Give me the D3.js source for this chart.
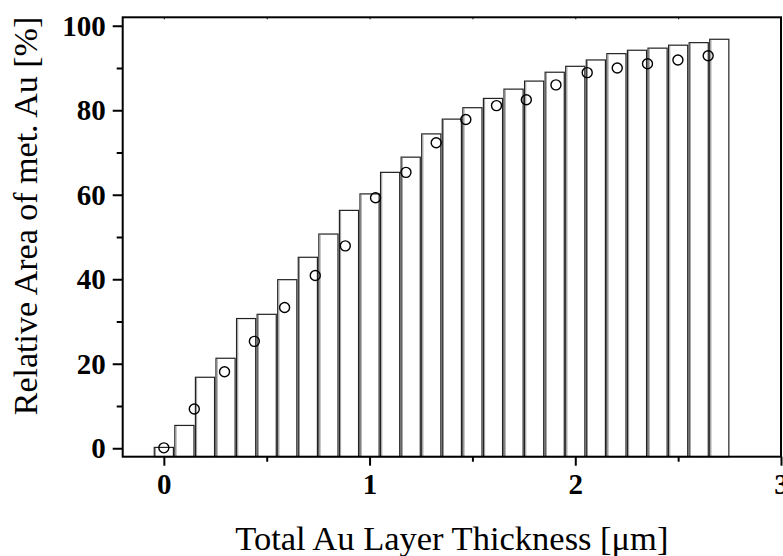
<!DOCTYPE html>
<html>
<head>
<meta charset="utf-8">
<script src="https://cdn.jsdelivr.net/npm/d3@7"></script>
<style>
  html, body { margin: 0; padding: 0; background: #fff; }
  svg { display: block; }
</style>
</head>
<body>
<svg id="chart" width="783" height="556"></svg>
<script>
// Bar series (histogram-like bars at 0.1 µm steps)
const barX = [0, 0.1, 0.2, 0.3, 0.4, 0.5, 0.6, 0.7, 0.8, 0.9, 1.0, 1.1, 1.2, 1.3,
              1.4, 1.5, 1.6, 1.7, 1.8, 1.9, 2.0, 2.1, 2.2, 2.3, 2.4, 2.5, 2.6, 2.7];
const barY = [0.2, 5.4, 16.8, 21.3, 30.7, 31.7, 39.9, 45.2, 50.7, 56.3, 60.2, 65.3, 68.9, 74.4,
              77.9, 80.6, 82.8, 85.0, 86.9, 89.0, 90.4, 91.9, 93.4, 94.2, 94.7, 95.4, 96.0, 96.8];
// Measured points (open circles)
const ptX = [0, 0.148, 0.295, 0.44, 0.587, 0.736, 0.882, 1.029, 1.177, 1.324,
             1.468, 1.617, 1.762, 1.906, 2.058, 2.204, 2.351, 2.499, 2.646];
const ptY = [0.1, 9.3, 18.1, 25.3, 33.3, 40.9, 47.9, 59.3, 65.3, 72.3,
             77.8, 81.1, 82.5, 86.0, 88.9, 90.0, 91.0, 91.9, 92.9];
// Axis ticks
const xMajor = [0, 1, 2, 3];
const xMinor = [0.5, 1.5, 2.5];
const yMajor = [0, 20, 40, 60, 80, 100];
const yMinor = [10, 30, 50, 70, 90];
const xTitle = "Total Au Layer Thickness [\u03BCm]";
const yTitle = "Relative Area of met. Au [%]";
const barWidth = 0.093;

const svg = d3.select("#chart");
const L = 122.7, R = 781, T = 17.3, B = 456.7;
const x = d3.scaleLinear().domain([-0.2, 3]).range([L, R]);
const y = d3.scaleLinear().domain([-2, 102]).range([B, T]);
const fontFam = "'Liberation Serif', 'Times New Roman', serif";

// Bars
const bars = barX.map((v, i) => ({x: v, y: barY[i]}));
svg.append("g").selectAll("rect").data(bars).join("rect")
  .attr("x", d => x(d.x - barWidth / 2))
  .attr("y", d => y(d.y))
  .attr("width", d => x(d.x + barWidth / 2) - x(d.x - barWidth / 2))
  .attr("height", d => y(-2) - y(d.y))
  .attr("fill", "#fff")
  .attr("stroke", "#222")
  .attr("stroke-width", 1.2);
// gray shading line on left edges
svg.append("g").selectAll("line").data(bars).join("line")
  .attr("x1", d => x(d.x - barWidth / 2) + 1.2)
  .attr("x2", d => x(d.x - barWidth / 2) + 1.2)
  .attr("y1", d => y(d.y) + 0.6)
  .attr("y2", y(-2))
  .attr("stroke", "#999")
  .attr("stroke-width", 1);

// Points
const pts = ptX.map((v, i) => ({x: v, y: ptY[i]}));
svg.append("g").selectAll("circle").data(pts).join("circle")
  .attr("cx", d => x(d.x))
  .attr("cy", d => y(d.y))
  .attr("r", 5)
  .attr("fill", "none")
  .attr("stroke", "#000")
  .attr("stroke-width", 1.4);

// Frame
svg.append("rect").attr("x", L).attr("y", T).attr("width", R - L).attr("height", B - T)
  .attr("fill", "none").attr("stroke", "#000").attr("stroke-width", 2);

// Axes
const axB = d3.axisBottom(x).tickValues(xMajor).tickSize(9).tickPadding(8).tickFormat(d3.format("d"));
const gB = svg.append("g").attr("transform", `translate(0,${B})`).call(axB);
gB.select(".domain").remove();
gB.selectAll(".tick line").attr("stroke", "#000").attr("stroke-width", 2);
gB.selectAll(".tick text").attr("font-family", fontFam).attr("font-size", 29).attr("font-weight", "bold").attr("fill", "#000");
const gBm = svg.append("g").attr("transform", `translate(0,${B})`)
  .call(d3.axisBottom(x).tickValues(xMinor).tickSize(5).tickFormat(""));
gBm.select(".domain").remove();
gBm.selectAll(".tick line").attr("stroke", "#000").attr("stroke-width", 2);

const axL = d3.axisLeft(y).tickValues(yMajor).tickSize(10).tickPadding(7).tickFormat(d3.format("d"));
const gL = svg.append("g").attr("transform", `translate(${L},0)`).call(axL);
gL.select(".domain").remove();
gL.selectAll(".tick line").attr("stroke", "#000").attr("stroke-width", 2);
gL.selectAll(".tick text").attr("font-family", fontFam).attr("font-size", 29).attr("font-weight", "bold").attr("fill", "#000");
const gLm = svg.append("g").attr("transform", `translate(${L},0)`)
  .call(d3.axisLeft(y).tickValues(yMinor).tickSize(6).tickFormat(""));
gLm.select(".domain").remove();
gLm.selectAll(".tick line").attr("stroke", "#000").attr("stroke-width", 2);

// small ticks on top axis
const gT = svg.append("g").attr("transform", `translate(0,${T})`)
  .call(d3.axisTop(x).tickValues(xMajor.concat(xMinor)).tickSize(-2).tickFormat(""));
gT.select(".domain").remove();
gT.selectAll(".tick line").attr("stroke", "#000").attr("stroke-width", 1);

// Titles
svg.append("text").attr("x", (L + R) / 2).attr("y", 550)
  .attr("text-anchor", "middle").attr("font-family", fontFam).attr("font-size", 34.5)
  .attr("fill", "#000").text(xTitle);
svg.append("text").attr("transform", `translate(37,${216}) rotate(-90)`)
  .attr("text-anchor", "middle").attr("font-family", fontFam).attr("font-size", 34)
  .attr("fill", "#000").text(yTitle);
</script>
</body>
</html>
